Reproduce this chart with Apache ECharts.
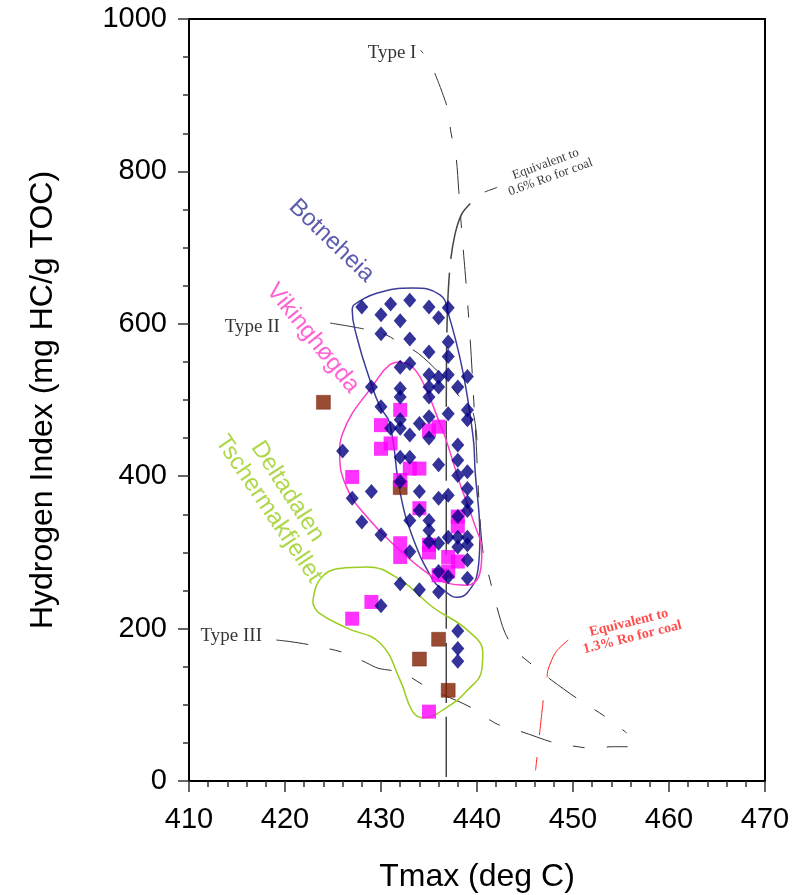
<!DOCTYPE html>
<html>
<head>
<meta charset="utf-8">
<script src="https://cdn.jsdelivr.net/npm/echarts@6/dist/echarts.min.js"></script>
<style>
  html, body { margin: 0; padding: 0; background: #fff; }
  #chart { width: 797px; height: 895px; }
</style>
</head>
<body>
<div id="chart"></div>
<script>
// Axis ticks
const xTickValues = [410, 420, 430, 440, 450, 460, 470];
const yTickValues = [0, 200, 400, 600, 800, 1000];

// Samples: [Tmax (deg C), HI (mg HC/g TOC)]
const botneheia = [
  [428,622],[431,626],[433,631],[435,622],[437,621],[430,612],[432,604],[436,608],
  [430,587],[433,580],[437,576],[435,563],[437,557],[433,548],[432,543],[435,533],
  [436,530],[437,533],[439,531],[435,517],[436,517],[438,517],[429,517],[432,515],
  [432,504],[435,504],[430,491],[437,482],[439,487],[439,474],[435,478],[432,474],
  [434,469],[431,463],[432,463],[433,454],[435,450],[426,433],[438,441],[432,425],
  [433,425],[436,415],[438,421],[439,406],[438,401],[439,384],[429,380],[434,380],
  [427,371],[436,371],[437,375],[439,366],[432,393],[439,355],[438,347],[434,355],
  [433,342],[435,342],[428,340],[435,329],[430,323],[437,320],[438,320],[439,320],
  [435,314],[436,312],[438,307],[439,310],[433,301],[439,290],[436,275],[437,268],
  [439,266],[432,259],[434,251],[436,248],[430,230],[438,197],[438,174],[438,157]
];
const vikinghogda = [
  [432,487],[430,467],[436,465],[435,460],[431,443],[430,436],[433,410],[434,410],
  [427,399],[432,395],[434,358],[438,347],[438,334],[432,312],[432,294],[435,310],
  [435,300],[437,294],[438,288],[437,275],[436,270],[429,235],[427,213],[435,91]
];
const deltadalen = [
  [424,497],[432,385],[436,186],[434,160],[437,119]
];

// Formation outlines
const botneheiaOutline = [
  [427.1,624],[429.55,640],[433.3,647],[436.15,638],[437.0,614],[438.5,539],
  [439.6,451],[439.8,408],[440.3,320],[440.1,277],[439.0,247],[437.9,241],
  [436.5,251],[435.4,264],[433.3,320],[432.0,378],[430.9,470],[429.9,491],
  [428.85,526],[427.5,582],[427.0,618],[427.1,624]
];
const vikinghogdaOutline = [
  [432.0,550],[430.9,546],[429.55,526],[426.0,456],[425.7,430],[426.4,386],
  [428.5,347],[431.6,307],[434.8,273],[436.8,260],[438.9,257],[440.3,273],
  [440.5,299],[439.6,342],[438.2,391],[436.8,447],[436.1,470],[434.6,517],
  [433.3,543],[432.0,550]
];
const deltadalenOutline = [
  [422.9,233],[423.6,264],[425.7,279],[428.5,281],[432.0,264],[435.4,228],
  [439.0,198],[440.6,168],[440.5,146],[439.0,119],[436.9,97],[434.4,83],
  [433.3,91],[432.0,132],[429.9,181],[426.4,201],[423.6,220],[422.9,233]
];

// Kerogen type evolution paths and maturity isolines
const typeITick = [[434.1,959],[434.4,955]];
const typeICurve = [
  [435.6,929],[436.9,884],[437.3,850],[437.8,821],
  [438.1,775],[438.4,723],[438.75,670],[439.0,631],[439.3,578],[439.6,513],
  [439.9,447],[440.2,369],[440.6,303],[441.35,264],[442.1,227],[442.9,195],
  [444.0,172],[445.5,155],[447.8,132],[450.7,106],[453.3,85],[455.6,63]
];
const typeIICurve = [
  [424.7,601],[428.3,593],[430.6,585],[431.7,577],[433.9,561],[436.5,530],
  [438.2,504],[439.5,487],[440.0,447]
];
const typeIIICurve = [
  [419.1,185],[420.5,183],[422.9,178],[426.25,168],[428.5,155],[429.7,148],
  [432.2,142],[435.3,119],[436.5,113],[439.3,97],[441.35,80],[442.4,73],
  [444.8,64],[448.1,50],[450.5,45],[451.8,43],[454.2,45],[455.7,45]
];
const ro06Leader = [[442.1,779],[440.8,773]];
const ro06Line = [
  [439.3,758],[438.4,744],[437.7,717],[437.2,677],[436.9,610],[436.8,500],[436.8,5]
];
const ro13Leader = [[449.5,185],[448.2,169],[447.4,146],[447.3,136]];
const ro13Line = [[446.9,106],[446.1,14]];

// Text annotations: [Tmax, HI, text, rotation (deg), colour, size, family, weight]
const annotations = [
  [424.84, 709, 'Botneheia', -44, '#33339a', 24, 'Liberation Sans', 'normal'],
  [422.9, 581, 'Vikinghøgda', -51, '#ff3cc8', 24, 'Liberation Sans', 'normal'],
  [420.26, 380, 'Deltadalen', -57, '#9acd1e', 24, 'Liberation Sans', 'normal'],
  [418.28, 357, 'Tschermakfjellet', -56, '#9acd1e', 24, 'Liberation Sans', 'normal'],
  [431.15, 956, 'Type I', 0, '#000', 19, 'Liberation Serif', 'normal'],
  [416.6, 596, 'Type II', 0, '#000', 19, 'Liberation Serif', 'normal'],
  [414.4, 190, 'Type III', 0, '#000', 19, 'Liberation Serif', 'normal'],
  [447.4, 801, 'Equivalent to\n0.6% Ro for coal', 20, '#000', 13, 'Liberation Serif', 'normal'],
  [456.0, 198, 'Equivalent to\n1.3% Ro for coal', 14, '#ff2020', 14, 'Liberation Serif', 'bold']
];

const chart = echarts.init(document.getElementById('chart'), null, { renderer: 'canvas' });

function pathSeries(data, color, width, dash, z) {
  return {
    type: 'line', data: data, symbol: 'none', silent: true, z: z,
    smooth: dash === 'solid-smooth' ? 0.45 : 0.3,
    lineStyle: { color: color, width: width, type: dash === 'solid-smooth' ? 'solid' : dash },
    animation: false
  };
}

const option = {
  animation: false,
  backgroundColor: '#fff',
  grid: {
    left: 189, right: 32, top: 19, bottom: 114,
    outerBoundsMode: 'none', containLabel: false,
    show: true, borderColor: '#000', borderWidth: 2, backgroundColor: 'transparent'
  },
  xAxis: {
    type: 'value', min: xTickValues[0], max: xTickValues[xTickValues.length - 1], interval: 10,
    name: 'Tmax (deg C)', nameLocation: 'middle', nameGap: 80,
    nameTextStyle: { fontSize: 32, fontFamily: 'Liberation Sans', color: '#000' },
    axisLine: { show: true, onZero: false, lineStyle: { color: '#000', width: 2 } },
    axisTick: { show: true, inside: false, length: 11, lineStyle: { color: '#333', width: 1.5 } },
    minorTick: { show: true, splitNumber: 5, length: 6, lineStyle: { color: '#333', width: 1.5 } },
    axisLabel: { fontSize: 29, fontFamily: 'Liberation Sans', color: '#000', margin: 24,
      formatter: v => String(v) },
    splitLine: { show: false }
  },
  yAxis: {
    type: 'value', min: yTickValues[0], max: yTickValues[yTickValues.length - 1], interval: 200,
    name: 'Hydrogen Index (mg HC/g TOC)', nameLocation: 'middle', nameGap: 130,
    nameTextStyle: { fontSize: 32, fontFamily: 'Liberation Sans', color: '#000' },
    axisLine: { show: true, onZero: false, lineStyle: { color: '#000', width: 2 } },
    axisTick: { show: true, inside: false, length: 11, lineStyle: { color: '#333', width: 1.5 } },
    minorTick: { show: true, splitNumber: 4, length: 6, lineStyle: { color: '#333', width: 1.5 } },
    axisLabel: { fontSize: 29, fontFamily: 'Liberation Sans', color: '#000', margin: 22,
      formatter: v => String(v) },
    splitLine: { show: false }
  },
  series: [
    pathSeries(typeITick, '#333', 1, 'solid', 1),
    pathSeries(typeICurve, '#333', 1, [34, 22, 12, 22], 1),
    pathSeries(typeIICurve, '#333', 1, [34, 20, 12, 22], 1),
    pathSeries(typeIIICurve, '#333', 1, [32, 22, 12, 22], 1),
    pathSeries(ro06Leader, '#333', 1, 'solid', 1),
    pathSeries(ro06Line, '#444', 1.5, [60, 14], 1),
    pathSeries(ro13Leader, '#ff2020', 1, 'solid', 1),
    pathSeries(ro13Line, '#ff2020', 1, [35, 22], 1),
    pathSeries(botneheiaOutline, '#3c3c9a', 1.5, 'solid-smooth', 2),
    pathSeries(vikinghogdaOutline, '#ff3cc8', 1.5, 'solid-smooth', 2),
    pathSeries(deltadalenOutline, '#9acd1e', 1.5, 'solid-smooth', 2),
    {
      name: 'Deltadalen', type: 'scatter', data: deltadalen, symbol: 'rect', symbolSize: 14, z: 3,
      itemStyle: { color: '#7f1f00', borderColor: '#6a1a00', borderWidth: 0.5 }
    },
    {
      name: 'Vikinghøgda', type: 'scatter', data: vikinghogda, symbol: 'rect', symbolSize: 14, z: 4,
      itemStyle: { color: '#ff00ff' }
    },
    {
      name: 'Botneheia', type: 'scatter', data: botneheia, symbol: 'diamond', symbolSize: [13, 15], z: 5,
      itemStyle: { color: '#000080' }
    },
    {
      type: 'scatter', symbolSize: 0, silent: true, z: 6,
      data: annotations.map(a => ({
        value: [a[0], a[1]],
        label: {
          show: true, position: 'inside', formatter: a[2], rotate: a[3],
          color: a[4], fontSize: a[5], fontFamily: a[6], fontWeight: a[7],
          align: 'center', verticalAlign: 'middle', lineHeight: Math.round(a[5] * 1.1)
        }
      }))
    }
  ]
};

chart.setOption(option);
</script>
</body>
</html>
